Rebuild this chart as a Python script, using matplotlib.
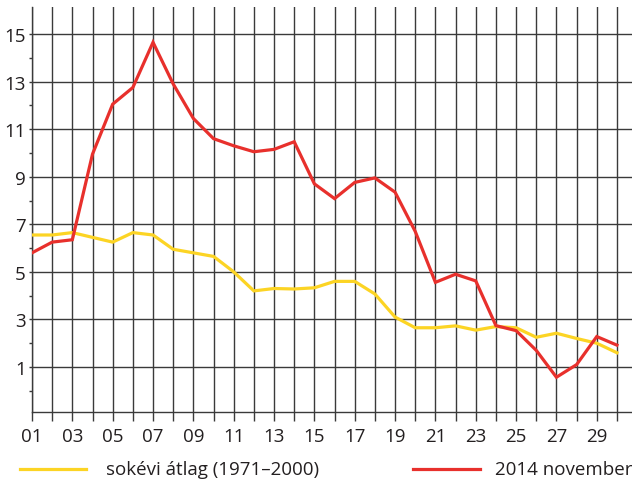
import matplotlib
matplotlib.use("Agg")
import matplotlib.pyplot as plt
from matplotlib.lines import Line2D

# Data
days = list(range(1, 31))
avg_label = "sokévi átlag (1971–2000)"
nov_label = "2014 november"
avg_1971_2000 = [6.55, 6.55, 6.65, 6.45, 6.25, 6.65, 6.55, 5.95, 5.8, 5.65,
                 5.0, 4.2, 4.3, 4.28, 4.33, 4.6, 4.6, 4.07, 3.1, 2.65,
                 2.65, 2.73, 2.55, 2.7, 2.65, 2.25, 2.42, 2.2, 2.0, 1.6]
nov_2014 = [5.8, 6.25, 6.35, 9.95, 12.05, 12.75, 14.65, 12.9, 11.45, 10.6,
            10.3, 10.05, 10.15, 10.47, 8.7, 8.08, 8.76, 8.95, 8.35, 6.7,
            4.56, 4.9, 4.62, 2.74, 2.53, 1.7, 0.57, 1.1, 2.28, 1.92]
x_labels = ["%02d" % d if d % 2 == 1 else "" for d in days]
y_major = [1, 3, 5, 7, 9, 11, 13, 15]
y_minor = [0, 2, 4, 6, 8, 10, 12, 14]

text_color = "#231f20"
grid_color = "#3a3a3a"
yellow = "#fcd424"
red = "#e8302c"

plt.rcParams["font.family"] = ["Open Sans", "DejaVu Sans"]
plt.rcParams["font.size"] = 13.5

fig = plt.figure(figsize=(6.32, 4.81), dpi=100)
ax = fig.add_axes([32 / 632, 68 / 481, 600 / 632, 405 / 481])

ax.plot(days, avg_1971_2000, color=yellow, lw=2.3, zorder=3, solid_joinstyle="miter")
ax.plot(days, nov_2014, color=red, lw=2.3, zorder=4, solid_joinstyle="miter")

ax.set_xlim(1, 1 + 600 / 20.17)
ax.set_ylim(1 - 45 / 23.79, 15 + 27 / 23.79)

ax.set_xticks(days)
ax.set_xticklabels(x_labels)
ax.set_yticks(y_major)
ax.set_yticks(y_minor, minor=True)

ax.grid(axis="x", color=grid_color, lw=1.0)
ax.grid(axis="y", which="major", color=grid_color, lw=1.0)

ax.tick_params(axis="x", length=6.5, width=1.0, color=grid_color, pad=4.5,
               labelcolor=text_color, labelsize=13.5)
ax.tick_params(axis="y", which="major", length=2.5, width=1.0, color=grid_color,
               pad=2, labelcolor=text_color, labelsize=13.5)
ax.tick_params(axis="y", which="minor", length=2.5, width=1.0, color=grid_color)

for side in ["top", "right"]:
    ax.spines[side].set_visible(False)
for side in ["left", "bottom"]:
    ax.spines[side].set_color(grid_color)
    ax.spines[side].set_linewidth(1.0)

# Legend below the plot
ly = (481 - 470) / 481
fig.add_artist(Line2D([20 / 632, 86 / 632], [ly, ly], color=yellow, lw=2.3,
                      transform=fig.transFigure))
fig.text(106 / 632, ly, avg_label, color=text_color, fontsize=13.5, va="center", ha="left")
fig.add_artist(Line2D([413 / 632, 480 / 632], [ly, ly], color=red, lw=2.3,
                      transform=fig.transFigure))
fig.text(495 / 632, ly, nov_label, color=text_color, fontsize=13.5, va="center", ha="left")

fig.savefig("out.png", dpi=100)
